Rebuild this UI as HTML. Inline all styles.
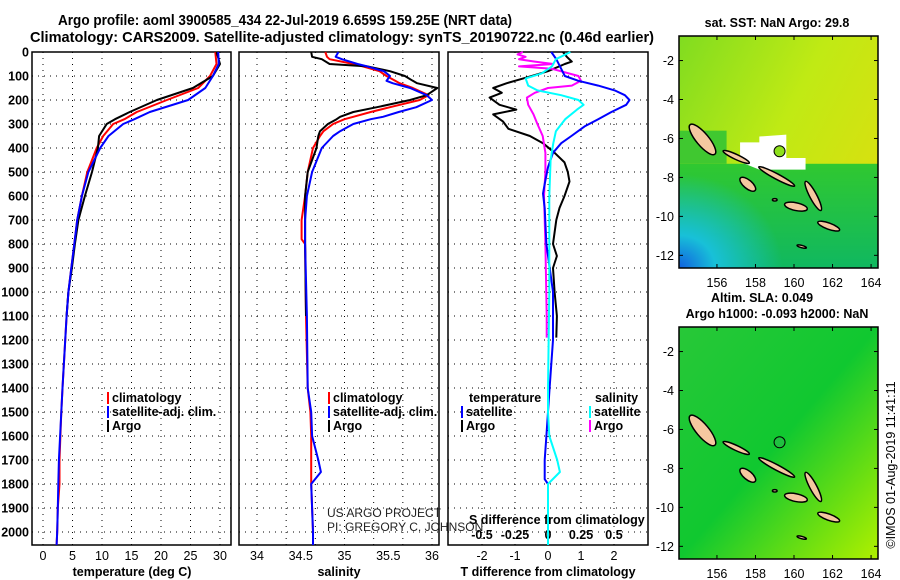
<!DOCTYPE html>
<html><head><meta charset="utf-8"><style>
html,body{margin:0;padding:0;background:#fff;}
svg{display:block;font-family:"Liberation Sans",sans-serif;}
.b{font-weight:bold;}
</style></head><body>
<svg id="fig" width="900" height="580" viewBox="0 0 900 580">
<text x="285" y="25" text-anchor="middle" class="b" font-size="15" textLength="454" lengthAdjust="spacingAndGlyphs">Argo profile: aoml 3900585_434 22-Jul-2019 6.659S 159.25E (NRT data)</text>
<text x="342" y="42" text-anchor="middle" class="b" font-size="15" textLength="624" lengthAdjust="spacingAndGlyphs">Climatology: CARS2009. Satellite-adjusted climatology: synTS_20190722.nc (0.46d earlier)</text>
<g id="plots"></g>
<g id="maps"></g>
</svg>
<script>
// ---------- data ----------
const depthT = [0,50,100,150,200,250,280,300,350,400,500,600,700,800,900,1000,1100,1400,1500,1700,1800,1900,2000,2054];
const tempArgo = [29.4,30,28.8,25.4,19.3,14.7,12.2,10.8,9.5,9.3,8.3,7.1,6.0,5.4,4.9,4.3,4.0,null,null,null,null,null,null,null];
const tempClim = [29.2,29.4,28.3,26.3,21.0,15.9,13.8,11.9,10.2,9.1,7.5,6.6,5.8,5.3,4.8,4.3,4.0,3.3,3.1,2.8,2.8,2.5,2.4,2.3];
const tempSat = [29.7,29.8,28.8,27.5,24.6,18.1,15.5,13.6,11.1,9.7,7.7,6.6,5.8,5.3,4.8,4.3,4.0,3.3,3.1,2.7,2.6,2.5,2.4,2.3];

const depthS = [0,20,30,50,60,80,100,120,130,150,180,200,230,250,270,280,300,330,350,400,500,600,700,780,800,1100,1400,1500,1600,1700,1750,1800,1900,2000,2054];
const salArgo = [34.62,34.63,34.74,34.83,35.26,35.52,35.69,35.78,35.83,36.06,35.94,35.75,35.37,35.10,34.95,34.91,34.81,34.72,34.70,34.68,34.58,34.55,34.55,34.55,34.55,34.56,null,null,null,null,null,null,null,null,null];
const salClim = [34.78,34.80,34.83,35.10,35.21,35.40,35.48,35.58,35.63,35.78,35.96,35.86,35.52,35.30,35.10,35.00,34.87,34.76,34.72,34.64,34.58,34.55,34.51,34.51,34.55,34.56,34.58,34.61,34.62,34.62,34.62,34.62,34.63,34.64,34.64];
const salSat = [34.93,34.90,34.97,35.15,35.26,35.45,35.52,35.48,35.55,35.75,35.94,36.00,35.82,35.62,35.44,35.30,35.10,34.95,34.87,34.74,34.63,34.57,34.55,34.55,34.55,34.57,34.58,34.62,34.63,34.70,34.73,34.62,34.63,34.64,34.64];

const depthDT = [0,20,40,50,80,110,130,150,170,190,220,240,260,290,320,350,380,420,460,500,540,600,650,700,800,850,900,1000,1100,1190];
const dTArgo = [0.45,0.57,0.72,0.51,0,-0.75,-1.25,-1.66,-1.4,-1.77,-1.47,-0.96,-1.66,-1.36,-1.2,-0.55,-0.15,0.2,0.5,0.6,0.65,0.5,0.35,0.25,0.15,0.27,0.15,0.2,0.27,0.25];
const depthDTs = [0,30,70,100,120,140,160,180,200,220,250,280,310,350,380,420,480,550,590,650,800,1000,1200,1400,1600,1700,1780,1800,2054];
const dTSat = [0.1,0.25,0.4,0.51,0.92,1.52,2.02,2.33,2.47,2.37,1.92,1.52,1.11,0.71,0.4,0.15,0,-0.1,-0.15,-0.1,-0.05,0.15,0.15,0.05,-0.05,-0.1,-0.1,0,0];
const depthDS = [0,30,60,90,110,140,160,180,200,220,240,280,330,380,450,600,1000,1400,1500,1600,1700,1750,1800,2054];
const dSSat = [0.17,0.06,0.03,-0.05,-0.17,-0.15,-0.08,0.10,0.23,0.27,0.22,0.13,0.06,0.04,0.02,0.01,0.01,0,0,0.01,0.07,0.09,0,0];
const depthDSa = [0,10,20,30,40,50,60,70,100,120,140,150,170,190,220,260,300,350,420,500,600,800,1100,1190];
const dSArgo = [-0.19,-0.23,-0.17,-0.22,-0.10,0.04,-0.22,0.03,0.23,0.25,0.18,0,-0.10,-0.16,-0.15,-0.11,-0.08,-0.04,-0.02,-0.02,-0.03,-0.02,-0.01,-0.01];

const depthTicks = [0,100,200,300,400,500,600,700,800,900,1000,1100,1200,1300,1400,1500,1600,1700,1800,1900,2000];
const tempTicks = [0,5,10,15,20,25,30];
const salTicks = [34,34.5,35,35.5,36];
const salGrid = [34,34.3333,34.6667,35,35.3333,35.6667,36];
const dTTicks = [-2,-1,0,1,2];
const dSTicks = [-0.5,-0.25,0,0.25,0.5];
const dSTickLabels = ['-0.5','-0.25','0','0.25','0.5'];

// ---------- axes ----------
const NS='http://www.w3.org/2000/svg';
const TOP=52, BOT=545;
const yD = d => TOP + d*0.24;
const xT = t => 43 + t*5.9;
const xS = s => 257 + (s-34)*87.5;
const xDT = t => 548 + t*33;
const xDS = s => 548 + s*4*33;
const plots=document.getElementById('plots');
function el(tag,attrs,parent){const e=document.createElementNS(NS,tag);for(const k in attrs)e.setAttribute(k,attrs[k]);(parent||plots).appendChild(e);return e;}
function txt(x,y,s,attrs,parent){const e=el('text',Object.assign({x:x,y:y},attrs||{}),parent);e.textContent=s;return e;}
function path(xs,ds,fx,color,w,name){
  let d='';let pen=false;
  for(let i=0;i<ds.length;i++){const v=xs[i];if(v===null||v===undefined){pen=false;continue;}
    d+=(pen?'L':'M')+fx(v).toFixed(1)+','+yD(ds[i]).toFixed(1);pen=true;}
  const p=el('path',{d:d,fill:'none',stroke:color,'stroke-width':w,'stroke-linejoin':'round'});
  
  
  return p;
}
function panel(x0,x1,gridX,name){
  const g=el('g',{});
  
  
  for(const d of depthTicks){if(d===0)continue;el('line',{x1:x0,x2:x1,y1:yD(d),y2:yD(d),stroke:'#000','stroke-width':1,'stroke-dasharray':'1,5'},g);}
  for(const gx of gridX){el('line',{x1:gx,x2:gx,y1:TOP,y2:BOT,stroke:'#000','stroke-width':1,'stroke-dasharray':'1,5'},g);}
  el('rect',{x:x0,y:TOP,width:x1-x0,height:BOT-TOP,fill:'none',stroke:'#000','stroke-width':1.5},g);
}
panel(32,231,tempTicks.map(xT),'temperature-panel');
panel(239,439,salGrid.map(xS),'salinity-panel');
panel(448,648,dTTicks.map(xDT),'difference-panel');

for(const d of depthTicks){const t=txt(29,yD(d)+4.5,String(d),{'text-anchor':'end','font-size':12.5,'class':'b'});
  
  }
for(const t of tempTicks){const e=txt(xT(t),560,String(t),{'text-anchor':'middle','font-size':12.5});
  
  }
for(const s of salTicks){const e=txt(xS(s),560,String(s),{'text-anchor':'middle','font-size':12.5});
  
  }
for(const t of dTTicks){const e=txt(xDT(t),560,String(t),{'text-anchor':'middle','font-size':12.5});
  
  }
dSTicks.forEach((s,i)=>{const e=txt(xDS(s),539,dSTickLabels[i],{'text-anchor':'middle','font-size':12.5,'class':'b'});
  
  });
[[132,'temperature (deg C)','temperature-axis-title'],[339,'salinity','salinity-axis-title'],[548,'T difference from climatology','t-diff-axis-title']].forEach(a=>{
  const e=txt(a[0],576,a[1],{'text-anchor':'middle','font-size':12.5,'class':'b'});
  
  });
{const e=txt(469,524,'S difference from climatology',{'font-size':12.5,'class':'b'});
  
  }

path(tempClim,depthT,xT,'#f00',2,'temperature-climatology-line');
path(tempArgo,depthT,xT,'#000',2,'temperature-argo-line');
path(tempSat,depthT,xT,'#00f',2,'temperature-satellite-line');
path(salClim,depthS,xS,'#f00',2,'salinity-climatology-line');
path(salArgo,depthS,xS,'#000',2,'salinity-argo-line');
path(salSat,depthS,xS,'#00f',2,'salinity-satellite-line');
path(dTArgo,depthDT,xDT,'#000',2,'t-diff-argo-line');
path(dSArgo,depthDSa,xDS,'#f0f',2,'s-diff-argo-line');
path(dTSat,depthDTs,xDT,'#00f',2,'t-diff-satellite-line');
path(dSSat,depthDS,xDS,'#0ff',2,'s-diff-satellite-line');

function leg(x,y,color,label,name){
  const g=el('g',{});
  
  
  el('rect',{x:x,y:y-10,width:2,height:12,fill:color},g);
  txt(x+5,y,label,{'font-size':12.5,'class':'b'},g);
}
leg(107,402,'#f00','climatology','legend-entry-climatology');
leg(107,416,'#00f','satellite-adj. clim.','legend-entry-satellite');
leg(107,430,'#000','Argo','legend-entry-argo');
leg(328,402,'#f00','climatology','legend-entry-sal-climatology');
leg(328,416,'#00f','satellite-adj. clim.','legend-entry-sal-satellite');
leg(328,430,'#000','Argo','legend-entry-sal-argo');
{const e=txt(469,402,'temperature',{'font-size':12.5,'class':'b'});
 
 
 const f=txt(595,402,'salinity',{'font-size':12.5,'class':'b'});
 
 }
leg(461,416,'#00f','satellite','legend-entry-t-satellite');
leg(461,430,'#000','Argo','legend-entry-t-argo');
leg(589,416,'#0ff','satellite','legend-entry-s-satellite');
leg(589,430,'#f0f','Argo','legend-entry-s-argo');
{const a=txt(327,517,'US ARGO PROJECT',{'font-size':12,fill:'#222'});
 
 
 const b=txt(327,531,'PI: GREGORY C. JOHNSON',{'font-size':12,fill:'#222'});
 
 }

// ---------- maps ----------
const maps=document.getElementById('maps');
// islands: [lon, lat, half-length (deg), half-width (deg), rotation deg]
const islands=[[155.25,-6.05,1.0,0.32,50],[157.0,-6.95,0.75,0.13,25],[159.1,-7.95,1.05,0.14,28],[157.6,-8.35,0.5,0.22,40],[160.1,-9.5,0.6,0.2,12],[161.0,-8.95,0.85,0.18,62],[161.8,-10.5,0.6,0.16,20],[160.4,-11.55,0.25,0.06,15],[159.0,-9.15,0.12,0.06,0]];
function map(y0,y1,latTop,latBot,kind,name){
  const g=el('g',{},maps);
  
  
  const x0=679,x1=878,lonL=154.03,lonR=164.36;
  const X=l=>x0+(l-lonL)/(lonR-lonL)*(x1-x0);
  const Y=l=>y0+(latTop-l)/(latTop-latBot)*(y1-y0);
  const id='c'+kind;
  const defs=el('defs',{},g);
  const cp=el('clipPath',{id:id},defs);el('rect',{x:x0,y:y0,width:x1-x0,height:y1-y0},cp);
  const c=el('g',{'clip-path':'url(#'+id+')'},g);
  if(kind==='sst'){
    const lg=el('linearGradient',{id:'gsst',x1:0,y1:0,x2:1,y2:0.6},defs);
    el('stop',{offset:0,'stop-color':'#80dc20'},lg);el('stop',{offset:0.55,'stop-color':'#c0ea14'},lg);el('stop',{offset:1,'stop-color':'#d8e010'},lg);
    el('rect',{x:x0,y:y0,width:x1-x0,height:y1-y0,fill:'url(#gsst)'},c);
    const lg2=el('linearGradient',{id:'gsst2',x1:0,y1:0,x2:0,y2:1},defs);
    el('stop',{offset:0,'stop-color':'#30c830'},lg2);el('stop',{offset:1,'stop-color':'#10b860'},lg2);
    el('rect',{x:x0,y:Y(-7.3),width:x1-x0,height:y1-Y(-7.3),fill:'url(#gsst2)'},c);
    el('rect',{x:x0,y:Y(-5.6),width:X(156.5)-x0,height:Y(-7.3)-Y(-5.6),fill:'#40c830'},c);
    const rg=el('radialGradient',{id:'gblue',cx:0,cy:1,r:0.9},defs);
    el('stop',{offset:0,'stop-color':'#1060e0'},rg);el('stop',{offset:0.35,'stop-color':'#18c0d8'},rg);el('stop',{offset:1,'stop-color':'#18c0d8','stop-opacity':0},rg);
    el('rect',{x:x0,y:Y(-7.3),width:X(160)-x0,height:y1-Y(-7.3),fill:'url(#gblue)'},c);
    el('path',{d:`M${X(157.2)},${Y(-6.2)}L${X(158.2)},${Y(-6.2)}L${X(158.2)},${Y(-5.9)}L${X(159.6)},${Y(-5.8)}L${X(159.6)},${Y(-7.0)}L${X(160.6)},${Y(-7.0)}L${X(160.6)},${Y(-7.6)}L${X(158.2)},${Y(-7.6)}L${X(157.2)},${Y(-7.2)}Z`,fill:'#fff'},c);
  } else {
    const lg=el('linearGradient',{id:'gsla',x1:0,y1:0,x2:1,y2:1},defs);
    el('stop',{offset:0,'stop-color':'#28c838'},lg);el('stop',{offset:0.5,'stop-color':'#10c830'},lg);el('stop',{offset:0.8,'stop-color':'#70e010'},lg);el('stop',{offset:1,'stop-color':'#b0f000'},lg);
    el('rect',{x:x0,y:y0,width:x1-x0,height:y1-y0,fill:'url(#gsla)'},c);
  }
  for(const s of islands){
    const e=el('ellipse',{cx:X(s[0]),cy:Y(s[1]),rx:s[2]*19.3,ry:s[3]*19.4,transform:`rotate(${s[4]} ${X(s[0])} ${Y(s[1])})`,fill:'#f5c8a0',stroke:'#000','stroke-width':1.5},c);
    
    
  }
  const dot=el('circle',{cx:X(159.25),cy:Y(-6.659),r:5.5,fill:kind==='sst'?'#8ee01c':'#20c040',stroke:'#000','stroke-width':1},g);
  
  
  el('rect',{x:x0,y:y0,width:x1-x0,height:y1-y0,fill:'none',stroke:'#000','stroke-width':1.5},g);
  for(const lon of [156,158,160,162,164]){el('line',{x1:X(lon),x2:X(lon),y1:y0,y2:y0+4,stroke:'#000'},g);el('line',{x1:X(lon),x2:X(lon),y1:y1,y2:y1-4,stroke:'#000'},g);
    const t=txt(X(lon),y1+19,String(lon),{'text-anchor':'middle','font-size':12.5},g);
    
    }
  for(const lat of [-2,-4,-6,-8,-10,-12]){el('line',{x1:x0,x2:x0+4,y1:Y(lat),y2:Y(lat),stroke:'#000'},g);el('line',{x1:x1,x2:x1-4,y1:Y(lat),y2:Y(lat),stroke:'#000'},g);
    const t=txt(x0-5,Y(lat)+4.5,String(lat),{'text-anchor':'end','font-size':12.5},g);
    
    }
}
map(36,268,-0.74,-12.65,'sst','sst-map');
map(327,559,-0.74,-12.65,'sla','sla-map');
{const a=txt(777,27,'sat. SST: NaN Argo: 29.8',{'text-anchor':'middle','font-size':12.5,'class':'b'},maps);
 
 
 const b=txt(762,302,'Altim. SLA: 0.049',{'text-anchor':'middle','font-size':12.5,'class':'b'},maps);
 
 
 const c=txt(777,318,'Argo h1000: -0.093 h2000: NaN',{'text-anchor':'middle','font-size':12.5,'class':'b'},maps);
 
 
 const d=txt(0,0,'©IMOS 01-Aug-2019 11:41:11',{'text-anchor':'middle','font-size':12.5,transform:'translate(895,465) rotate(-90)'},maps);
 
 }
</script>
</body></html>
